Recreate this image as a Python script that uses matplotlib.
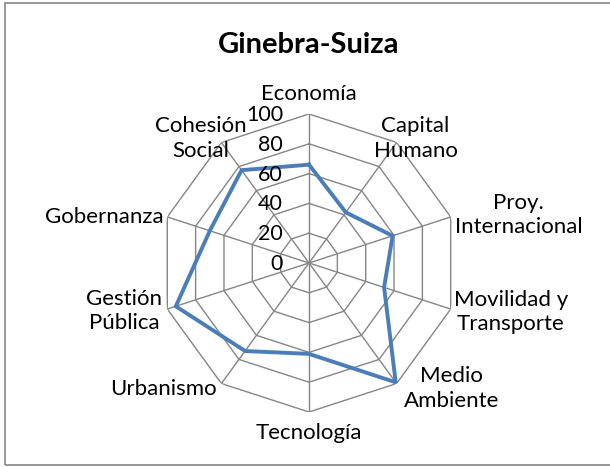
import numpy as np
import matplotlib
matplotlib.use("Agg")
import matplotlib.pyplot as plt
from matplotlib.patches import Rectangle

plt.rcParams['font.family'] = ['Lato', 'DejaVu Sans']

#Data
title = "Ginebra-Suiza"
categories = ["Economía", "Capital\nHumano", "Proy.\nInternacional", "Movilidad y\nTransporte",
              "Medio\nAmbiente", "Tecnología", "Urbanismo", "Gestión\nPública",
              "Gobernanza", "Cohesión\nSocial"]
values = [66, 42, 59, 53, 99, 61, 73, 94, 70, 77]
r_ticks = [0, 20, 40, 60, 80, 100]

#label offsets from the outer vertex, pixels
label_offsets = [(0, 20), (19, 4), (68, 2), (60, -3), (55, -5),
                 (0, -21), (-58, -5), (-43, -2), (-63, 0), (-21, 4)]

grid_col = "#868686"
line_col = "#4A7EBB"

W, H = 610, 467
cx, cy, R = 309, 263, 149
fig = plt.figure(figsize=(W/100, H/100), dpi=100)
ax = fig.add_axes([(cx-R)/W, (H-cy-R)/H, 2*R/W, 2*R/H], projection="polar")
ax.set_theta_zero_location("N")
ax.set_theta_direction(-1)
ax.set_ylim(0, 100)
ax.grid(False)
ax.spines["polar"].set_visible(False)
ax.set_xticks([])
ax.set_yticks([])
ax.patch.set_alpha(0)

n = len(categories)
theta = np.arange(n)*2*np.pi/n
theta_c = np.append(theta, theta[0])

#polygon rings and spokes
for r in r_ticks[1:]:
    ax.plot(theta_c, [r]*(n+1), color=grid_col, lw=1.0, zorder=1)
for t in theta:
    ax.plot([t, t], [0, 100], color=grid_col, lw=1.0, zorder=1)

vals_c = values + [values[0]]
ax.plot(theta_c, vals_c, color=line_col, lw=2.8, zorder=3, solid_joinstyle="miter")

for t, lab, off in zip(theta, categories, label_offsets):
    ax.annotate(lab, xy=(t, 100), xytext=off, textcoords="offset pixels",
                ha="center", va="center", ma="center", fontsize=16,
                linespacing=1.3, annotation_clip=False)

for r in r_ticks:
    ax.annotate(str(r), xy=(0, r), xytext=(-26, -1), textcoords="offset pixels",
                ha="right", va="center", fontsize=15.5, annotation_clip=False)

fig.text(cx/W, 1-45/H, title, ha="center", va="center", fontsize=21, fontweight="bold")

fig.patches.append(Rectangle((5/W, 2/H), 1.1, 1-5/H, transform=fig.transFigure,
                             fill=False, edgecolor=grid_col, lw=1.2))

plt.savefig("out.png", dpi=100)
plt.close(fig)
